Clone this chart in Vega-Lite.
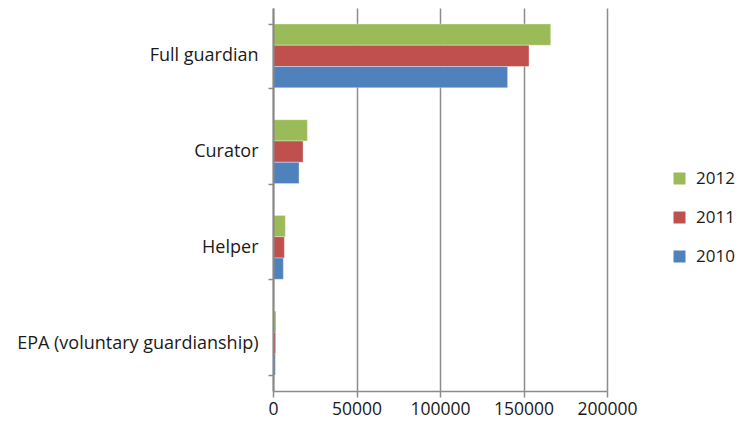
{
  "$schema": "https://vega.github.io/schema/vega-lite/v6.json",
  "width": 334,
  "height": 383,
  "autosize": {"type": "none"},
  "padding": {"left": 273, "top": 8, "right": 132, "bottom": 33},
  "background": "white",
  "config": {
    "view": {"stroke": null},
    "font": "Open Sans"
  },
  "data": {
    "values": [
      {"type": "Full guardian", "year": "2012", "count": 166300},
      {"type": "Full guardian", "year": "2011", "count": 153300},
      {"type": "Full guardian", "year": "2010", "count": 140500},
      {"type": "Curator", "year": "2012", "count": 20600},
      {"type": "Curator", "year": "2011", "count": 18000},
      {"type": "Curator", "year": "2010", "count": 15600},
      {"type": "Helper", "year": "2012", "count": 7400},
      {"type": "Helper", "year": "2011", "count": 6800},
      {"type": "Helper", "year": "2010", "count": 6200},
      {"type": "EPA (voluntary guardianship)", "year": "2012", "count": 1800},
      {"type": "EPA (voluntary guardianship)", "year": "2011", "count": 1600},
      {"type": "EPA (voluntary guardianship)", "year": "2010", "count": 1400}
    ]
  },
  "mark": {"type": "bar", "stroke": "#ffffff", "strokeWidth": 0.6, "strokeOpacity": 0.6},
  "encoding": {
    "y": {
      "field": "type",
      "type": "nominal",
      "sort": ["Full guardian", "Curator", "Helper", "EPA (voluntary guardianship)"],
      "scale": {"paddingInner": 0.333, "paddingOuter": 0.1667},
      "axis": {
        "title": null,
        "tickBand": "extent",
        "domainColor": "#888888",
        "domainWidth": 2,
        "tickColor": "#888888",
        "tickWidth": 1.5,
        "tickSize": 5,
        "labelPadding": 10,
        "labelFontSize": 18,
        "labelLimit": 300,
        "labelColor": "#1a1a1a",
        "labelFont": "Open Sans",
        "grid": false,
        "zindex": 1
      }
    },
    "yOffset": {
      "field": "year",
      "type": "nominal",
      "scale": {"domain": ["2012", "2011", "2010"], "paddingInner": 0, "paddingOuter": 0}
    },
    "x": {
      "field": "count",
      "type": "quantitative",
      "scale": {"domain": [0, 200000], "nice": false},
      "axis": {
        "title": null,
        "values": [0, 50000, 100000, 150000, 200000],
        "format": "d",
        "domain": true,
        "domainColor": "#8c8c8c",
        "domainWidth": 1.5,
        "grid": true,
        "labelFlush": false,
        "labelOverlap": false,
        "gridColor": "#8c8c8c",
        "gridWidth": 1.5,
        "tickColor": "#8c8c8c",
        "tickWidth": 1.5,
        "tickSize": 6,
        "labelPadding": 3,
        "labelFontSize": 17.5,
        "labelColor": "#1a1a1a",
        "labelFont": "Open Sans"
      }
    },
    "color": {
      "field": "year",
      "type": "nominal",
      "scale": {"domain": ["2012", "2011", "2010"], "range": ["#9BBB59", "#C0504D", "#4F81BD"]},
      "legend": {
        "title": null,
        "orient": "none",
        "legendX": 398,
        "legendY": 162,
        "padding": 0,
        "symbolType": "square",
        "symbolSize": 144,
        "symbolStrokeWidth": 0,
        "labelFontSize": 17,
        "labelColor": "#1a1a1a",
        "labelFont": "Open Sans",
        "labelOffset": 8,
        "rowPadding": 21
      }
    }
  }
}
